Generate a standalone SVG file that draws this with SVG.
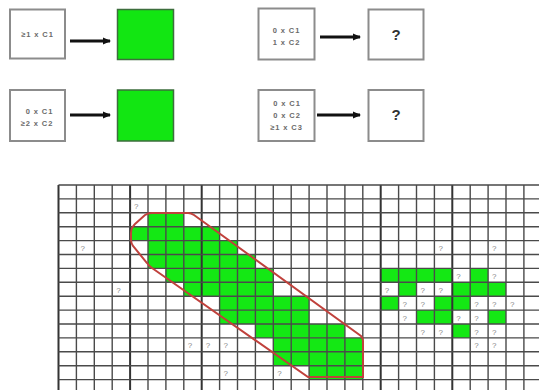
<svg xmlns="http://www.w3.org/2000/svg" width="539" height="390" viewBox="0 0 539 390">
<defs>
<marker id="ah" markerWidth="8" markerHeight="8" refX="7" refY="4" orient="auto" markerUnits="userSpaceOnUse">
<path d="M0,0.5 L8,4 L0,7.5 Z" fill="#111"/>
</marker>
<style>
.box{fill:#fff;stroke:#8c8c8c;stroke-width:2}
.gbox{fill:#12e612;stroke:#3d6e3d;stroke-width:1.5}
.lbl{font-family:"Liberation Sans",sans-serif;font-weight:bold;font-size:7.5px;letter-spacing:0.9px;fill:#6a6a6a;text-anchor:middle}
.q{font-family:"Liberation Sans",sans-serif;font-weight:bold;font-size:15px;fill:#333;text-anchor:middle}
.arr{stroke:#111;stroke-width:2.8;fill:none;marker-end:url(#ah)}
.g{fill:#14e814}
.gl{stroke:#4a4a4a;stroke-width:1.4;fill:none}
.gt{stroke:#333;stroke-width:2;fill:none}
.sq{font-family:"Liberation Sans",sans-serif;font-size:8px;fill:#888}
</style>
</defs>
<rect width="539" height="390" fill="#fff"/>

<g id="n1"><rect class="box" x="10" y="9.5" width="55" height="49"/><text class="lbl" x="37.5" y="37">≥1 x C1</text></g>
<g id="n2"><rect class="gbox" x="117.5" y="9.5" width="56" height="50"/></g>
<g id="n3"><rect class="box" x="10" y="90" width="55" height="51"/><text class="lbl" x="39.5" y="114">0 x C1</text><text class="lbl" x="37" y="126">≥2 x C2</text></g>
<g id="n4"><rect class="gbox" x="117.5" y="90" width="56" height="51"/></g>
<g id="n5"><rect class="box" x="258.5" y="8.5" width="56" height="51"/><text class="lbl" x="286.5" y="33">0 x C1</text><text class="lbl" x="286.5" y="45">1 x C2</text></g>
<g id="n6"><rect class="box" x="368.5" y="9.5" width="55" height="50"/><text class="q" x="396" y="39.5">?</text></g>
<g id="n7"><rect class="box" x="258.5" y="90" width="56" height="51"/><text class="lbl" x="287" y="106">0 x C1</text><text class="lbl" x="287" y="117.5">0 x C2</text><text class="lbl" x="286.5" y="129.5">≥1 x C3</text></g>
<g id="n8"><rect class="box" x="368.5" y="90" width="55" height="51"/><text class="q" x="396" y="120">?</text></g>

<g id="connectors">
<line class="arr" x1="70" y1="41" x2="110" y2="41"/>
<line class="arr" x1="70" y1="115" x2="110" y2="115"/>
<line class="arr" x1="320" y1="37" x2="360" y2="37"/>
<line class="arr" x1="317" y1="115" x2="360" y2="115"/>
</g>

<g id="grid">
<g id="green-cells">
<rect class="g" x="148" y="212.8" width="35.8" height="13.9"/>
<rect class="g" x="130.1" y="226.7" width="89.5" height="13.9"/>
<rect class="g" x="148" y="240.6" width="89.5" height="13.9"/>
<rect class="g" x="148" y="254.5" width="107.4" height="13.9"/>
<rect class="g" x="165.9" y="268.4" width="107.4" height="13.9"/>
<rect class="g" x="183.8" y="282.3" width="89.5" height="13.9"/>
<rect class="g" x="219.6" y="296.2" width="89.5" height="13.9"/>
<rect class="g" x="219.6" y="310.1" width="89.5" height="13.9"/>
<rect class="g" x="255.4" y="324" width="89.5" height="13.9"/>
<rect class="g" x="273.3" y="337.9" width="89.5" height="13.9"/>
<rect class="g" x="273.3" y="351.8" width="89.5" height="13.9"/>
<rect class="g" x="309.1" y="365.7" width="53.7" height="13.9"/>
<rect class="g" x="380.7" y="268.4" width="71.6" height="13.9"/>
<rect class="g" x="470.2" y="268.4" width="17.9" height="13.9"/>
<rect class="g" x="398.6" y="282.3" width="17.9" height="13.9"/>
<rect class="g" x="452.3" y="282.3" width="53.7" height="13.9"/>
<rect class="g" x="380.7" y="296.2" width="17.9" height="13.9"/>
<rect class="g" x="434.4" y="296.2" width="35.8" height="13.9"/>
<rect class="g" x="416.5" y="310.1" width="35.8" height="13.9"/>
<rect class="g" x="488.1" y="310.1" width="17.9" height="13.9"/>
<rect class="g" x="452.3" y="324" width="17.9" height="13.9"/>
</g>
<path class="gl" d="M76.4,185V390M94.3,185V390M112.2,185V390M148,185V390M165.9,185V390M183.8,185V390M219.6,185V390M237.5,185V390M255.4,185V390M273.3,185V390M291.2,185V390M309.1,185V390M327,185V390M344.9,185V390M362.8,185V390M398.6,185V390M416.5,185V390M434.4,185V390M470.2,185V390M488.1,185V390M506,185V390M523.9,185V390"/>
<path class="gt" d="M58.5,185V390M130.1,185V390M201.7,185V390M380.7,185V390M452.3,185V390"/>
<path class="gl" d="M58.5,185H539M58.5,198.9H539M58.5,212.8H539M58.5,226.7H539M58.5,240.6H539M58.5,254.5H539M58.5,268.4H539M58.5,282.3H539M58.5,296.2H539M58.5,310.1H539M58.5,324H539M58.5,337.9H539M58.5,351.8H539M58.5,365.7H539M58.5,379.6H539"/>
<path d="M131,233 Q131,228 135,224 L145,215 Q148,213 152,213 L188,213 Q191,213 194,215 L361,336 Q363,338 363,341 L363,377 L308,377 L152,268 Q149,266 147,263 L133,246 Q131,243 131,240 Z" fill="none" stroke="#c0413c" stroke-width="2"/>
<g id="unknowns">
<text class="sq" x="134.1" y="209.4">?</text>
<text class="sq" x="80.4" y="251.1">?</text>
<text class="sq" x="116.2" y="292.8">?</text>
<text class="sq" x="187.8" y="348.4">?</text>
<text class="sq" x="205.7" y="348.4">?</text>
<text class="sq" x="223.6" y="348.4">?</text>
<text class="sq" x="223.6" y="376.2">?</text>
<text class="sq" x="277.3" y="376.2">?</text>
<text class="sq" x="438.4" y="251.1">?</text>
<text class="sq" x="492.1" y="251.1">?</text>
<text class="sq" x="456.3" y="278.9">?</text>
<text class="sq" x="492.1" y="278.9">?</text>
<text class="sq" x="384.7" y="292.8">?</text>
<text class="sq" x="420.5" y="292.8">?</text>
<text class="sq" x="438.4" y="292.8">?</text>
<text class="sq" x="402.6" y="306.7">?</text>
<text class="sq" x="420.5" y="306.7">?</text>
<text class="sq" x="474.2" y="306.7">?</text>
<text class="sq" x="492.1" y="306.7">?</text>
<text class="sq" x="510" y="306.7">?</text>
<text class="sq" x="402.6" y="320.6">?</text>
<text class="sq" x="456.3" y="320.6">?</text>
<text class="sq" x="474.2" y="320.6">?</text>
<text class="sq" x="420.5" y="334.5">?</text>
<text class="sq" x="438.4" y="334.5">?</text>
<text class="sq" x="474.2" y="334.5">?</text>
<text class="sq" x="492.1" y="334.5">?</text>
<text class="sq" x="474.2" y="348.4">?</text>
<text class="sq" x="492.1" y="348.4">?</text>
</g>
</g>
</svg>
